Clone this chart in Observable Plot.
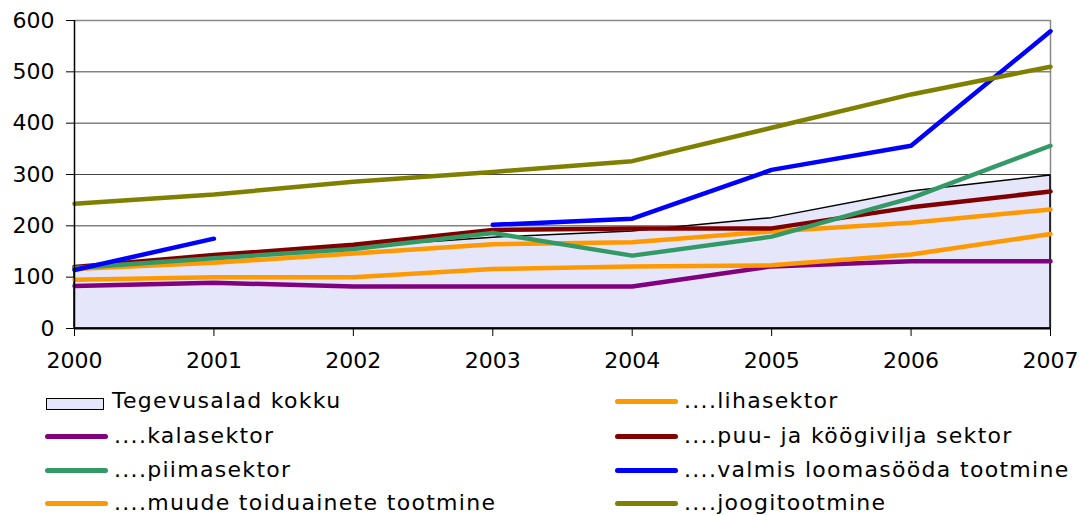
<!DOCTYPE html>
<html><head><meta charset="utf-8">
<script src="https://cdn.jsdelivr.net/npm/d3@7"></script>
<script src="https://cdn.jsdelivr.net/npm/@observablehq/plot@0.6"></script>
<style>
body{margin:0;background:#fff;font-family:"DejaVu Sans",sans-serif;}
#wrap{position:relative;width:1080px;height:515px;overflow:hidden;}
#legend{position:absolute;left:0;top:375px;width:1080px;height:140px;}
.item{position:absolute;display:flex;align-items:center;font-size:22px;line-height:1;letter-spacing:1.3px;color:#000;height:30px;white-space:nowrap;}
.sw{width:63px;height:5px;border-radius:3px;margin-right:6px;}
.box{width:56px;height:10px;border:1.5px solid #000;background:#E6E6FA;margin-right:8px;margin-left:1px;margin-top:5px;}
</style></head>
<body><div id="wrap"><div id="chart"></div><div id="legend"></div></div>
<script>
const years = [2000, 2001, 2002, 2003, 2004, 2005, 2006, 2007];
const total = [115, 140, 158, 177, 189, 215, 267, 298];
const liha = [116, 128, 146, 164, 168, 189, 206, 232];
const kala = [83, 89, 82, 82, 82, 121, 131, 131];
const puu = [120, 143, 163, 192, 195, 195, 236, 267];
const piim = [118, 137, 155, 186, 142, 179, 254, 356];
const valmis = [114, 175, null, 202, 214, 309, 356, 579];
const muude = [95, 100, 100, 116, 121, 123, 144, 184];
const joogi = [243, 261, 286, 305, 326, 391, 456, 510];
const yTicks = [0, 100, 200, 300, 400, 500, 600];
const gridTicks = [100, 200, 300, 400, 500];

const seriesNames = ["Tegevusalad kokku", "....lihasektor", "....kalasektor", "....puu- ja köögivilja sektor", "....piimasektor", "....valmis loomasööda tootmine", "....muude toiduainete tootmine", "....joogitootmine"];
const seriesColors = ["#E6E6FA", "#FF9900", "#800080", "#800000", "#339966", "#0000FF", "#FF9900", "#808000"];
const lineSeries = [liha, kala, puu, piim, valmis, muude, joogi];

const rows = (vals) => years.map((x, i) => ({x, y: vals[i]}));

const lineMarks = lineSeries.map((vals, k) =>
  Plot.line(rows(vals), {x: "x", y: "y", stroke: seriesColors[k + 1], strokeWidth: 4.5, strokeLinecap: "round", strokeLinejoin: "round"})
);

const chart = Plot.plot({
  width: 1080,
  height: 375,
  marginLeft: 74,
  marginRight: 30,
  marginTop: 20,
  marginBottom: 47,
  style: {fontFamily: "DejaVu Sans, sans-serif", fontSize: "22px", color: "#000", background: "#fff"},
  x: {type: "linear", domain: [2000, 2007], label: null},
  y: {domain: [0, 600], label: null},
  marks: [
    Plot.ruleY(gridTicks, {stroke: "#444", strokeWidth: 1}),
    Plot.ruleY([600], {stroke: "#888", strokeWidth: 1.5}),
    Plot.ruleX([2007], {stroke: "#888", strokeWidth: 1.5}),
    Plot.areaY(rows(total), {x: "x", y: "y", fill: seriesColors[0], stroke: "#000", strokeWidth: 1.5}),
    ...lineMarks,
    Plot.ruleX([2000], {stroke: "#000", strokeWidth: 1.5}),
    Plot.ruleY([0], {stroke: "#000", strokeWidth: 2}),
    Plot.axisX({ticks: years, tickFormat: d3.format("d"), tickSize: 8, tickPadding: 16, stroke: "#000", fontSize: 22}),
    Plot.axisY({ticks: yTicks, tickSize: 8, tickPadding: 12, stroke: "#000", fontSize: 22})
  ]
});
document.getElementById("chart").appendChild(chart);

const legend = document.getElementById("legend");
const rowTops = [11, 46, 80, 113];
const colLefts = [45, 615];
seriesNames.forEach((name, i) => {
  const row = Math.floor(i / 2), col = i % 2;
  const div = document.createElement("div");
  div.className = "item";
  div.style.left = colLefts[col] + "px";
  div.style.top = rowTops[row] + "px";
  const sw = document.createElement("span");
  if (i === 0) { sw.className = "box"; }
  else { sw.className = "sw"; sw.style.background = seriesColors[i]; }
  div.appendChild(sw);
  const t = document.createElement("span");
  t.textContent = name;
  div.appendChild(t);
  legend.appendChild(div);
});
</script></body></html>
